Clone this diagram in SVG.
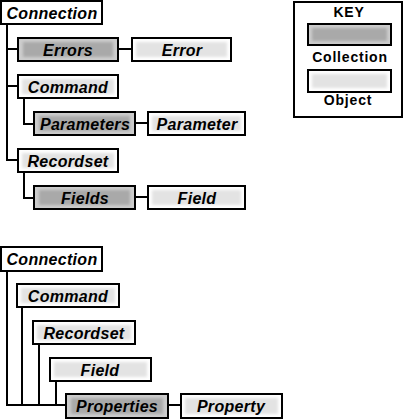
<svg xmlns="http://www.w3.org/2000/svg" width="404" height="420" viewBox="0 0 404 420">
<defs>
<filter id="soft" x="-10%" y="-30%" width="120%" height="160%"><feGaussianBlur stdDeviation="1.6"/></filter>
<style>
.b{stroke:#000;stroke-width:2}
.w{fill:#fff}
.c{fill:#cdcdcd}
.ci{fill:#a9a9a9;filter:url(#soft)}
.oi{fill:#e3e3e3;filter:url(#soft)}
.t{font-family:"Liberation Sans",Arial,sans-serif;font-size:16px;font-weight:bold;font-style:italic;text-anchor:middle;fill:#000;letter-spacing:0.3px}
.k{font-family:"Liberation Sans",Arial,sans-serif;font-size:14px;font-weight:bold;text-anchor:middle;fill:#000;letter-spacing:0.8px}
.ln{stroke:#000;stroke-width:2;fill:none}
</style>
</defs>
<g id="connectors">
<path class="ln" d="M7 24V161M6 49H18M6 86H18M6 160H18M118 49H132M24 97V124H34M135 123H148M24 171V198H34M135 197H148"/>
<path class="ln" d="M7 271V405M22 307V405M39 344V405M56 381V405M6 405H66M168 405H181"/>
</g>
<g id="n-connection1"><rect class="b w" x="1" y="1" width="101" height="23"/><text class="t" x="52" y="19">Connection</text></g>
<g id="n-errors"><rect class="b c" x="18" y="38" width="100" height="23"/><rect class="ci" x="23" y="42" width="90" height="15"/><text class="t" x="68" y="56">Errors</text></g>
<g id="n-error"><rect class="b w" x="132" y="38" width="99" height="23"/><rect class="oi" x="136" y="42" width="91" height="15"/><text class="t" x="182" y="56">Error</text></g>
<g id="n-command1"><rect class="b w" x="18" y="75" width="100" height="23"/><rect class="oi" x="22" y="79" width="92" height="15"/><text class="t" x="68" y="93">Command</text></g>
<g id="n-parameters"><rect class="b c" x="34" y="112" width="101" height="23"/><rect class="ci" x="39" y="116" width="91" height="15"/><text class="t" x="85" y="130">Parameters</text></g>
<g id="n-parameter"><rect class="b w" x="148" y="112" width="97" height="23"/><rect class="oi" x="152" y="116" width="89" height="15"/><text class="t" x="197" y="130">Parameter</text></g>
<g id="n-recordset1"><rect class="b w" x="18" y="149" width="100" height="23"/><rect class="oi" x="22" y="153" width="92" height="15"/><text class="t" x="68" y="167">Recordset</text></g>
<g id="n-fields"><rect class="b c" x="34" y="186" width="101" height="23"/><rect class="ci" x="39" y="190" width="91" height="15"/><text class="t" x="85" y="204">Fields</text></g>
<g id="n-field1"><rect class="b w" x="148" y="186" width="97" height="23"/><rect class="oi" x="152" y="190" width="89" height="15"/><text class="t" x="197" y="204">Field</text></g>
<g id="n-connection2"><rect class="b w" x="1" y="247" width="101" height="24"/><text class="t" x="52" y="265">Connection</text></g>
<g id="n-command2"><rect class="b w" x="17" y="284" width="102" height="23"/><rect class="oi" x="21" y="288" width="94" height="15"/><text class="t" x="68" y="302">Command</text></g>
<g id="n-recordset2"><rect class="b w" x="33" y="321" width="102" height="23"/><rect class="oi" x="37" y="325" width="94" height="15"/><text class="t" x="84" y="339">Recordset</text></g>
<g id="n-field2"><rect class="b w" x="50" y="358" width="101" height="23"/><rect class="oi" x="54" y="362" width="93" height="15"/><text class="t" x="100" y="376">Field</text></g>
<g id="n-properties"><rect class="b c" x="66" y="394" width="102" height="24"/><rect class="ci" x="71" y="398" width="92" height="16"/><text class="t" x="117" y="412">Properties</text></g>
<g id="n-property"><rect class="b w" x="181" y="394" width="101" height="24"/><rect class="oi" x="185" y="398" width="93" height="16"/><text class="t" x="231" y="412">Property</text></g>
<g id="key">
<rect class="b w" x="294" y="2" width="108" height="115"/>
<text class="k" x="349" y="17">KEY</text>
<rect class="b c" x="308" y="24" width="83" height="21"/><rect class="ci" x="312" y="28" width="75" height="13"/>
<text class="k" x="350" y="62">Collection</text>
<rect class="b w" x="308" y="70" width="83" height="22"/><rect class="oi" x="312" y="74" width="75" height="14"/>
<text class="k" x="348" y="105">Object</text>
</g>
</svg>
